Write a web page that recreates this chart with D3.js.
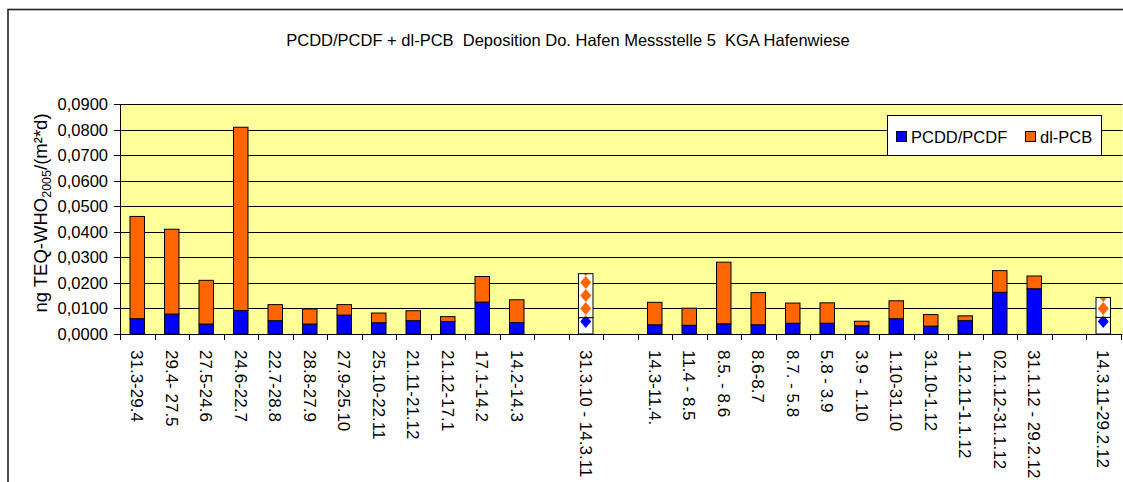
<!DOCTYPE html>
<html>
<head>
<meta charset="utf-8">
<script src="https://cdnjs.cloudflare.com/ajax/libs/d3/7.8.5/d3.min.js"></script>
<style>
  body { margin: 0; background: #fff; }
  svg { display: block; font-family: 'Liberation Sans', Arial, sans-serif; }
</style>
</head>
<body>
<div id="plotholder"></div>
<script>
const TITLE = 'PCDD/PCDF + dl-PCB  Deposition Do. Hafen Messstelle 5  KGA Hafenwiese'

const CATEGORIES = [
  '31.3-29.4', '29.4- 27.5', '27.5-24.6', '24.6-22.7', '22.7-28.8', '28.8-27.9',
  '27.9-25.10', '25.10-22.11', '21.11-21.12', '21.12-17.1', '17.1-14.2', '14.2-14.3',
  '',
  '31.3.10 - 14.3.11',
  '',
  '14.3-11.4.', '11.4 - 8.5', '8.5. - 8.6', '8.6-8.7', '8.7. - 5.8', '5.8 - 3.9',
  '3.9 - 1.10', '1.10-31.10', '31.10-1.12', '1.12.11-1.1.12', '02.1.12-31.1.12', '31.1.12 - 29.2.12',
  '',
  '14.3.11-29.2.12',
]

// yearly summaries, drawn with the diamond pattern
const SUMMARIES = ['31.3.10 - 14.3.11', '14.3.11-29.2.12']

const PCDD = [
  0.0060, 0.0078, 0.0039, 0.0092, 0.0052, 0.0039, 0.0074, 0.0044, 0.0052, 0.0049, 0.0125, 0.0045,
  null, 0.0064, null,
  0.0036, 0.0034, 0.0040, 0.0036, 0.0042, 0.0042, 0.0032, 0.0060, 0.0031, 0.0052, 0.0163, 0.0177,
  null, 0.0065,
]

const PCB = [
  0.0400, 0.0332, 0.0171, 0.0717, 0.0063, 0.0059, 0.0041, 0.0038, 0.0039, 0.0019, 0.0100, 0.0089,
  null, 0.0172, null,
  0.0088, 0.0067, 0.0241, 0.0126, 0.0079, 0.0080, 0.0018, 0.0070, 0.0045, 0.0019, 0.0085, 0.0050,
  null, 0.0078,
]

const SERIES = ['PCDD/PCDF', 'dl-PCB']
const COLOURS = ['#0000ff', '#ff6600']
const YTICKS = [0, 0.01, 0.02, 0.03, 0.04, 0.05, 0.06, 0.07, 0.08, 0.09]

const width = 1123
const height = 482
const plot = { left: 120, right: 1120.5, top: 104, bottom: 334 }

const de = d3.formatLocale({ decimal: ',', thousands: '.', grouping: [3], currency: ['', ''] })
const fmt = de.format('.4f')

const createsvg = (holderselector) => {
  const svg = d3.select(holderselector).append('svg')
    .attr('width', width)
    .attr('height', height)
  // outer chart frame, cut by the page edge on the right and bottom
  svg.append('rect')
    .attr('x', 8).attr('y', 9.5)
    .attr('width', 1200).attr('height', 600)
    .attr('fill', '#fff')
    .attr('stroke', '#222')
    .attr('stroke-width', 1.6)
  return svg
}

const createscales = () => {
  const xscale = d3.scaleBand()
    .domain(d3.range(CATEGORIES.length))
    .range([plot.left, plot.right])
    .paddingInner(0.58)
    .paddingOuter(0.29)
  const yscale = d3.scaleLinear()
    .domain([0, 0.09])
    .range([plot.bottom, plot.top])
  return { xscale, yscale }
}

const drawgrid = (svg, scales) => {
  const { yscale } = scales
  svg.append('rect')
    .attr('x', plot.left).attr('y', plot.top)
    .attr('width', plot.right - plot.left + 2)
    .attr('height', plot.bottom - plot.top)
    .attr('fill', '#ffff99')
  svg.append('g')
    .selectAll('line')
    .data(YTICKS.slice(1))
    .join('line')
    .attr('x1', plot.left).attr('x2', plot.right + 2)
    .attr('y1', d => Math.round(yscale(d)) + 0.5)
    .attr('y2', d => Math.round(yscale(d)) + 0.5)
    .attr('stroke', '#000')
    .attr('stroke-width', 1)
}

const drawbars = (svg, scales) => {
  const { xscale, yscale } = scales
  const rows = CATEGORIES.map((c, i) => ({ i, c, pcdd: PCDD[i] || 0, pcb: PCB[i] || 0 }))
  const stack = d3.stack().keys(['pcdd', 'pcb'])(rows)

  const defs = svg.append('defs')
  const layers = svg.append('g')

  stack.forEach((layer, k) => {
    layer.forEach((seg) => {
      const d = seg.data
      if (PCDD[d.i] == null) return
      const x = xscale(d.i)
      const w = xscale.bandwidth()
      const y0 = yscale(seg[0])
      const y1 = yscale(seg[1])
      const summary = SUMMARIES.indexOf(d.c) != -1
      if (!summary) {
        layers.append('rect')
          .attr('x', x).attr('y', y1)
          .attr('width', w).attr('height', y0 - y1)
          .attr('fill', COLOURS[k])
          .attr('stroke', '#000')
          .attr('stroke-width', 1)
        return
      }
      const id = `clip-${k}-${d.i}`
      defs.append('clipPath').attr('id', id)
        .append('rect')
        .attr('x', x).attr('y', y1)
        .attr('width', w).attr('height', y0 - y1)
      layers.append('rect')
        .attr('x', x).attr('y', y1)
        .attr('width', w).attr('height', y0 - y1)
        .attr('fill', '#fff')
      // diamonds every 13px up from the baseline
      const cy = d3.range(plot.bottom - 12.5, plot.top, -13)
      layers.append('g')
        .attr('clip-path', `url(#${id})`)
        .selectAll('path')
        .data(cy)
        .join('path')
        .attr('d', c => `M${x + w / 2},${c - 6.5}L${x + w / 2 + 5.5},${c}L${x + w / 2},${c + 6.5}L${x + w / 2 - 5.5},${c}Z`)
        .attr('fill', COLOURS[k])
      layers.append('rect')
        .attr('x', x).attr('y', y1)
        .attr('width', w).attr('height', y0 - y1)
        .attr('fill', 'none')
        .attr('stroke', '#000')
        .attr('stroke-width', 1)
    })
  })
}

const drawaxes = (svg, scales) => {
  const { xscale, yscale } = scales
  const step = xscale.step()

  // y axis
  const yaxis = svg.append('g')
  yaxis.append('line')
    .attr('x1', plot.left + 0.5).attr('x2', plot.left + 0.5)
    .attr('y1', plot.top).attr('y2', plot.bottom)
    .attr('stroke', '#000')
  yaxis.selectAll('.tick')
    .data(YTICKS)
    .join('line')
    .attr('x1', plot.left - 6).attr('x2', plot.left)
    .attr('y1', d => Math.round(yscale(d)) + 0.5)
    .attr('y2', d => Math.round(yscale(d)) + 0.5)
    .attr('stroke', '#000')
  yaxis.selectAll('text')
    .data(YTICKS)
    .join('text')
    .attr('x', 108)
    .attr('y', d => yscale(d) + 6)
    .attr('text-anchor', 'end')
    .attr('font-size', 16.5)
    .text(fmt)

  // x axis
  const xaxis = svg.append('g')
  xaxis.append('line')
    .attr('x1', plot.left).attr('x2', plot.right + 2)
    .attr('y1', plot.bottom + 0.5).attr('y2', plot.bottom + 0.5)
    .attr('stroke', '#000')
  const edges = d3.range(CATEGORIES.length + 1).map(i => plot.left + i * step)
  xaxis.selectAll('.tick')
    .data(edges)
    .join('line')
    .attr('x1', d => Math.round(d) + 0.5).attr('x2', d => Math.round(d) + 0.5)
    .attr('y1', plot.bottom).attr('y2', plot.bottom + 6)
    .attr('stroke', '#000')
  xaxis.selectAll('text')
    .data(CATEGORIES.map((c, i) => ({ c, i })))
    .join('text')
    .attr('transform', d => `translate(${xscale(d.i) + xscale.bandwidth() / 2},350) rotate(90)`)
    .attr('dy', '0.35em')
    .attr('font-size', 17)
    .text(d => d.c)

  // y axis title
  const ylab = svg.append('text')
    .attr('transform', 'translate(47,213) rotate(-90)')
    .attr('text-anchor', 'middle')
    .attr('font-size', 18.5)
  ylab.append('tspan').text('ng TEQ-WHO')
  ylab.append('tspan').attr('dy', 4).attr('font-size', 12.5).text('2005')
  ylab.append('tspan').attr('dy', -4).text('/(m²*d)')
}

const drawlegend = (svg) => {
  const g = svg.append('g')
  g.append('rect')
    .attr('x', 887.5).attr('y', 115.5)
    .attr('width', 214).attr('height', 40)
    .attr('fill', '#fff')
    .attr('stroke', '#000')
  const xs = [896, 1025]
  SERIES.forEach((s, k) => {
    g.append('rect')
      .attr('x', xs[k] + 0.5).attr('y', 131.5)
      .attr('width', 10).attr('height', 10)
      .attr('fill', COLOURS[k])
      .attr('stroke', '#000')
    g.append('text')
      .attr('x', xs[k] + 15).attr('y', 142.5)
      .attr('font-size', 16.5)
      .text(s)
  })
}

const svg = createsvg('#plotholder')
const scales = createscales()
drawgrid(svg, scales)
drawbars(svg, scales)
drawaxes(svg, scales)
drawlegend(svg)
svg.append('text')
  .attr('x', 568).attr('y', 46)
  .attr('text-anchor', 'middle')
  .attr('font-size', 16.5)
  .style('white-space', 'pre')
  .text(TITLE)
</script>
</body>
</html>
